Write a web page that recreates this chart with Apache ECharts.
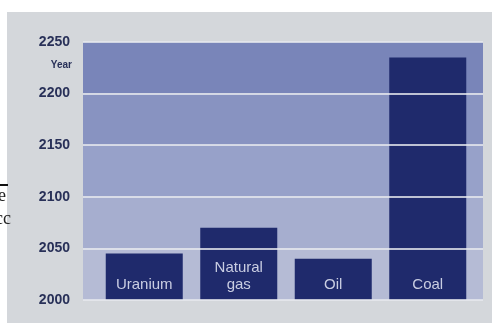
<!DOCTYPE html>
<html>
<head>
<meta charset="utf-8">
<script src="https://cdn.jsdelivr.net/npm/echarts@6/dist/echarts.min.js"></script>
<style>html,body{margin:0;padding:0;background:#fff}#c{width:492px;height:323px}</style>
</head>
<body>
<div id="c"></div>
<script>
var categories = ['Uranium', 'Natural\ngas', 'Oil', 'Coal'];
var depletionYear = [2045, 2070, 2040, 2235];
var yTicks = [2000, 2050, 2100, 2150, 2200, 2250];
var yUnit = 'Year';

var yMin = yTicks[0], yMax = yTicks[yTicks.length - 1], yStep = yTicks[1] - yTicks[0];
var chart = echarts.init(document.getElementById('c'));
var font = 'Liberation Sans, Arial, sans-serif';
chart.setOption({
  animation: false,
  backgroundColor: '#ffffff',
  graphic: [
    { type: 'text', left: -2, top: 187, z: 0, style: { text: 'e', font: '18px Liberation Serif', fill: '#222' } },
    { type: 'text', left: -5, top: 210, z: 0, style: { text: 'cc', font: '18px Liberation Serif', fill: '#222' } },
    { type: 'rect', left: 0, top: 184, z: 0, shape: { width: 8, height: 2 }, style: { fill: '#111' } },
    { type: 'rect', left: 7, top: 12, z: -1, shape: { width: 490, height: 320 }, style: { fill: '#d4d7db' } },
    { type: 'text', right: 420, top: 60, z: 20, style: { text: yUnit, font: 'bold 10px Liberation Sans', fill: '#283058' } }
  ],
  grid: [
    { left: 83, right: 9, top: 42, bottom: 23 },
    { left: 97, right: 17, top: 42, bottom: 23 },
    { left: 83, right: 9, top: 42, bottom: 23 }
  ],
  xAxis: [
    { gridIndex: 0, type: 'category', data: categories, show: false },
    { gridIndex: 1, type: 'category', data: categories, show: false },
    { gridIndex: 2, type: 'category', data: categories, show: false }
  ],
  yAxis: [
    { gridIndex: 0, type: 'value', min: yMin, max: yMax, interval: yStep, z: 0,
      axisLine: { show: false }, axisTick: { show: false }, splitLine: { show: false },
      axisLabel: { margin: 13, color: '#283058', fontFamily: font, fontWeight: 'bold', fontSize: 14,
        formatter: function (v) { return String(v); } },
      splitArea: { show: true, areaStyle: { opacity: 1, color: ['#b5bbd5', '#a6aecf', '#97a1c9', '#8893c1', '#7985b9'] } } },
    { gridIndex: 1, type: 'value', min: yMin, max: yMax, interval: yStep, show: false },
    { gridIndex: 2, type: 'value', min: yMin, max: yMax, interval: yStep, z: 10,
      axisLine: { show: false }, axisTick: { show: false }, axisLabel: { show: false },
      splitLine: { show: true, lineStyle: { color: '#e6e8ee', width: 2, opacity: 0.8 } } }
  ],
  series: [{
    type: 'bar', xAxisIndex: 1, yAxisIndex: 1, data: depletionYear, barWidth: 77, z: 3,
    itemStyle: { color: '#1f2a6c' },
    label: { show: true, position: 'insideBottom', distance: 7, color: '#c9cde2',
      fontFamily: font, fontSize: 15, lineHeight: 17,
      formatter: function (p) { return p.name; } }
  }]
});
</script>
</body>
</html>
